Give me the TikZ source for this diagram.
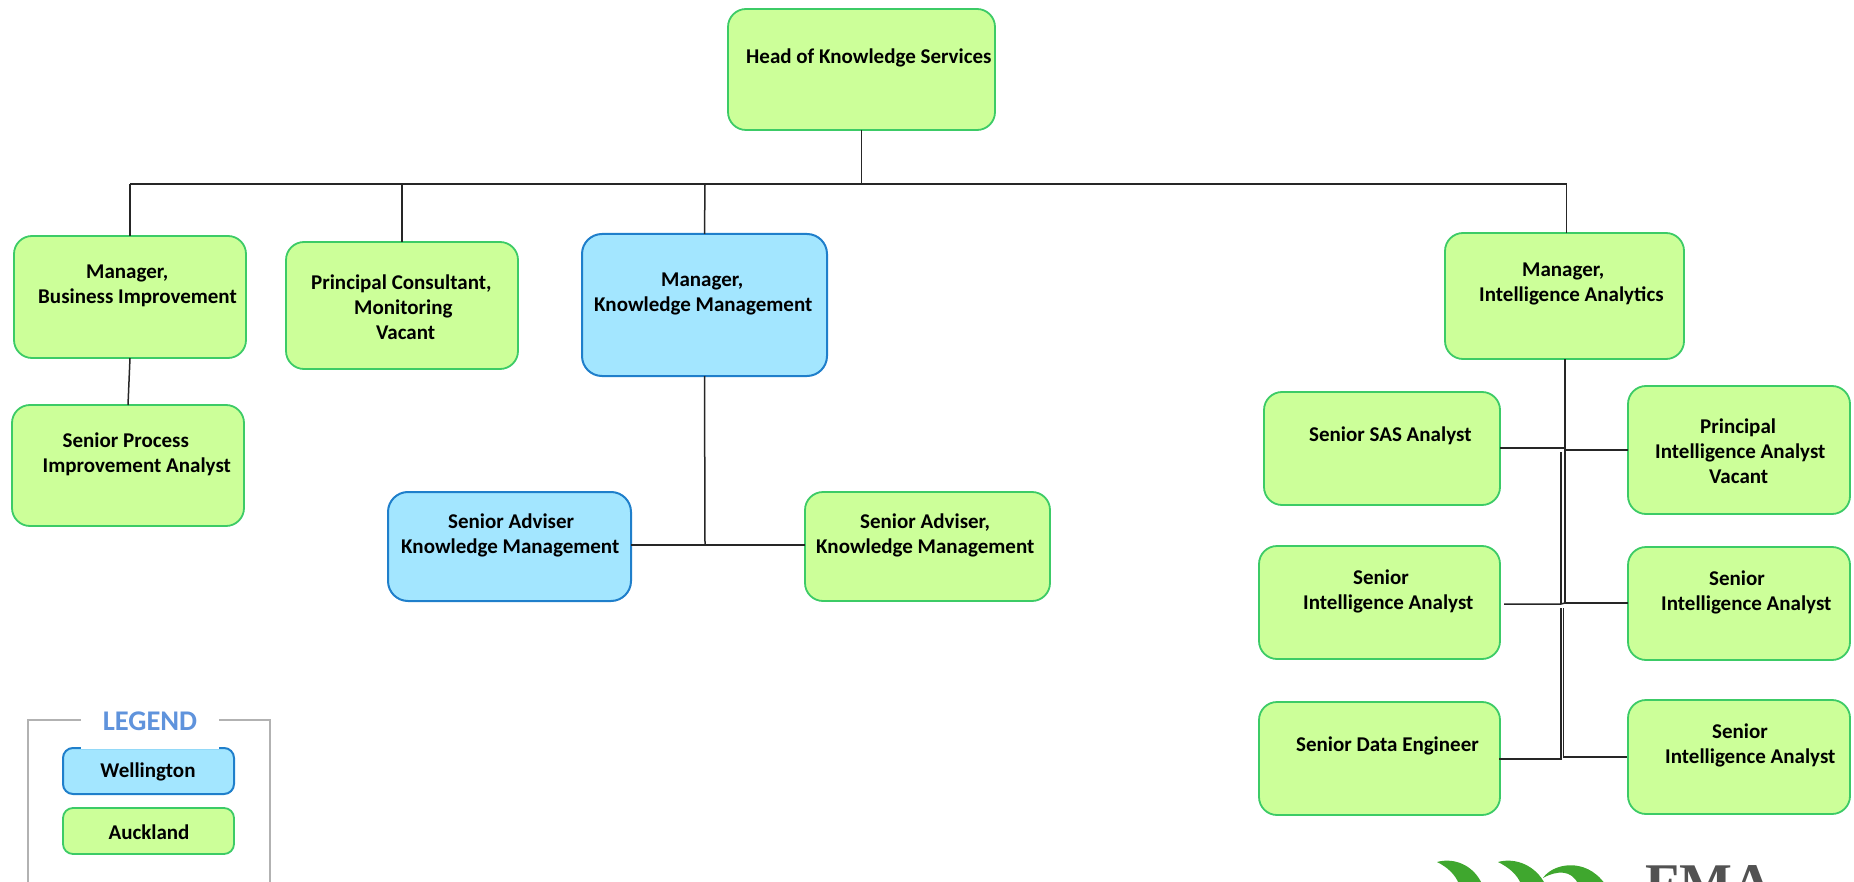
\documentclass[tikz,border=0pt]{standalone}
\usepackage{fontspec}
\setmainfont{Carlito}
\newfontfamily\logofont{Liberation Serif}
\definecolor{gfill}{HTML}{CCFF99}
\definecolor{gline}{HTML}{3CCB66}
\definecolor{bfill}{HTML}{A3E6FF}
\definecolor{bline}{HTML}{1F7FCB}
\definecolor{leaf}{HTML}{3FA72E}
\definecolor{legendblue}{HTML}{5F93DC}
\tikzset{
  gbox/.style={draw=gline,fill=gfill,line width=1.8pt,rounded corners=18pt,inner sep=0pt,outer sep=0pt},
  bbox/.style={draw=bline,fill=bfill,line width=2pt,rounded corners=20pt,inner sep=0pt,outer sep=0pt},
  lab/.style={font=\fontsize{21pt}{25pt}\selectfont\bfseries,text=black,align=left,anchor=west,inner sep=0pt},
  conn/.style={draw=black!85,line width=1.5pt},
  frameline/.style={draw=black!30,line width=1.5pt},
}
\newcommand{\bx}[6]{\node[#6,minimum width={(#4-#2)*1pt},minimum height={(#5-#3)*1pt}] (#1) at ({(#2+#4)/2},{(#3+#5)/2}) {};}
\begin{document}
\begin{tikzpicture}[x=1pt,y=-1pt]
\useasboundingbox (0,0) rectangle (1854,882);
\begin{scope}
\clip (0,0) rectangle (1854,882);
% boxes
\bx{head}{728}{9}{995}{130}{gbox}
\bx{bi}{14}{236}{246}{358}{gbox}
\bx{pc}{286}{242}{518}{369}{gbox}
\bx{km}{582}{234}{827}{376}{bbox}
\bx{ia}{1445}{233}{1684}{359}{gbox}
\bx{spia}{12}{405}{244}{526}{gbox}
\bx{sab}{388}{492}{631}{601}{bbox}
\bx{sag}{805}{492}{1050}{601}{gbox}
\bx{sas}{1264}{392}{1500}{505}{gbox}
\bx{pia}{1628}{386}{1850}{514}{gbox}
\bx{sial}{1259}{546}{1500}{659}{gbox}
\bx{siar}{1628}{547}{1850}{660}{gbox}
\bx{sde}{1259}{702}{1500}{815}{gbox}
\bx{siarb}{1628}{700}{1850}{814}{gbox}
% junctions
\coordinate (topj) at (862,184);
\coordinate (bij) at (130,184);
\coordinate (pcj) at (402,184);
\coordinate (kmj) at (705,184);
\coordinate (iaj) at (1566.5,184);
\coordinate (iat) at (1566.5,233);
\coordinate (kml) at (705,545);
\coordinate (a1) at (1565,449);
\coordinate (a0) at (1565,359);
\coordinate (a2) at (1565,603);
\coordinate (b1) at (1561,452);
\coordinate (b2) at (1561,604);
\coordinate (c1) at (1561,608);
\coordinate (c2) at (1561,759);
\coordinate (d1) at (1563.5,608);
\coordinate (d2) at (1563.5,757);
% connectors
\draw[conn] (head.south) -- (head.south |- topj);
\draw[conn] (bij) -- (iaj) -- (iat);
\draw[conn,line width=2.4pt] (pcj) -- (head.south |- topj);
\draw[conn] (bij) -- (bi.north);
\draw[conn] (pcj) -- (pc.north);
\draw[conn] (kmj) -- (km.north);
\draw[conn] (bi.south) -- (spia.north);
\draw[conn] (km.south) -- (kml);
\draw[conn] (sab.east |- kml) -- (sag.west |- kml);
\draw[conn] (a0) -- (a2);
\draw[conn] (sas.east |- a1) ++(0,-1) -- (1565,448);
\draw[conn] (a1) ++(0,1) -- (pia.west |- 0,450);
\draw[conn] (b1) -- (b2);
\draw[conn] (1504,604) -- (b2) -- (a2);
\draw[conn] (a2) -- (siar.west |- a2);
\draw[conn] (c1) -- (c2) -- (1499,759);
\draw[conn] (d1) -- (d2) -- (1627,757);
% texts
\node[lab] (t1) at (746,58) {Head of Knowledge Services};
\node[lab] (t2) at (38,285.5) {\hspace*{48pt}Manager,\\Business Improvement};
\node[lab] (t3) at (311,307) {Principal Consultant,\\\hspace*{43pt}Monitoring\\\hspace*{65pt}Vacant};
\node[lab] (t4) at (594,294) {\hspace*{67pt}Manager,\\Knowledge Management};
\node[lab] (t5) at (1479,284) {\hspace*{43pt}Manager,\\Intelligence Analytics};
\node[lab] (t6) at (42.5,454) {\hspace*{20pt}Senior Process\\Improvement Analyst};
\node[lab] (t7) at (401,535) {\hspace*{47pt}Senior Adviser\\Knowledge Management};
\node[lab] (t8) at (816,535) {\hspace*{44pt}Senior Adviser,\\Knowledge Management};
\node[lab] (t9) at (1309,436) {Senior SAS Analyst};
\node[lab] (t10) at (1655,451) {\hspace*{45pt}Principal\\Intelligence Analyst\\\hspace*{54pt}Vacant};
\node[lab] (t11) at (1303,591) {\hspace*{50pt}Senior\\Intelligence Analyst};
\node[lab] (t12) at (1661,592) {\hspace*{48pt}Senior\\Intelligence Analyst};
\node[lab] (t13) at (1296,746) {Senior Data Engineer};
\node[lab] (t14) at (1665,745) {\hspace*{47pt}Senior\\Intelligence Analyst};
% legend
\bx{well}{63}{748}{234}{794}{bbox,rounded corners=10pt}
\bx{auck}{63}{808}{234}{854}{gbox,rounded corners=10pt}
\coordinate (lf1) at (28,882);
\coordinate (lf2) at (28,720);
\coordinate (lf3) at (81,720);
\coordinate (lf4) at (219,720);
\coordinate (lf5) at (270,720);
\coordinate (lf6) at (270,882);
\fill[white] (81,700) rectangle (219,749.2);
\draw[frameline] (lf1) -- (lf2) -- (lf3);
\draw[frameline] (lf4) -- (lf5) -- (lf6);
\node[font=\fontsize{28.5pt}{30pt}\selectfont\bfseries,text=legendblue,inner sep=0pt] (legt) at (150,721) {LEGEND};
\node[lab,anchor=center,align=center] (t15) at (148,772) {Wellington};
\node[lab,anchor=center,align=center] (t16) at (149,832) {Auckland};
% logo
\fill[leaf] (1437,862) .. controls (1455,857) and (1474,866) .. (1482,884) -- (1459,884) .. controls (1455,874) and (1447,867) .. (1437,862) -- cycle;
\fill[leaf] (1498,862) .. controls (1516,857) and (1536,866) .. (1545,884) -- (1521,884) .. controls (1517,874) and (1508,867) .. (1498,862) -- cycle;
\fill[leaf] (1543,878) .. controls (1552,864) and (1585,856) .. (1605,884) -- (1578,884) .. controls (1572,870) and (1557,870) .. (1543,878) -- cycle;
\node[font=\logofont\fontsize{56pt}{60pt}\selectfont\bfseries,text=black!68,anchor=base west,inner sep=0pt] (fma) at (1645,902) {FMA};
\end{scope}
\end{tikzpicture}
\end{document}
